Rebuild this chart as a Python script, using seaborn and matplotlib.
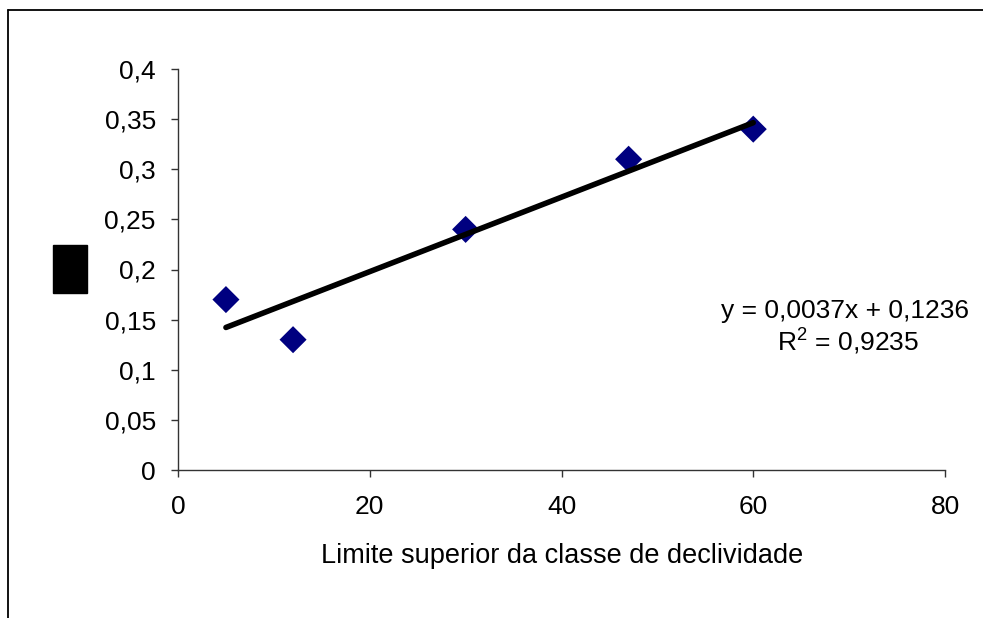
import matplotlib
matplotlib.use("Agg")
import matplotlib.pyplot as plt
import seaborn as sns
import pandas as pd
from matplotlib.patches import Rectangle
from matplotlib.lines import Line2D

# Data
x_vals = [5, 12, 30, 47, 60]
y_vals = [0.17, 0.13, 0.24, 0.31, 0.34]
x_ticks = [0, 20, 40, 60, 80]
y_ticks = [0, 0.05, 0.1, 0.15, 0.2, 0.25, 0.3, 0.35, 0.4]
y_ticklabels = ["0", "0,05", "0,1", "0,15", "0,2", "0,25", "0,3", "0,35", "0,4"]
x_label = "Limite superior da classe de declividade"
eq_text = "y = 0,0037x + 0,1236"
r2_text = "R$^2$ = 0,9235"

sns.set_theme(style="white")
plt.rcParams['font.family'] = ['Liberation Sans', 'DejaVu Sans']
plt.rcParams['mathtext.fontset'] = 'custom'
plt.rcParams['mathtext.rm'] = 'Liberation Sans'
plt.rcParams['text.color'] = 'black'

W, H = 983, 618
fig = plt.figure(figsize=(W / 100, H / 100), dpi=100)
ax = fig.add_axes([178 / W, 1 - 470 / H, (945 - 178) / W, (470 - 69) / H])

df = pd.DataFrame({"x": x_vals, "y": y_vals})
sns.regplot(data=df, x="x", y="y", ax=ax, ci=None, truncate=True,
            marker="D",
            scatter_kws={"s": 190, "color": "#000080", "edgecolor": "none", "alpha": 1},
            line_kws={"color": "black", "linewidth": 4, "solid_capstyle": "round"})

ax.set_xlim(0, 80)
ax.set_ylim(0, 0.4)
ax.set_xticks(x_ticks)
ax.set_xticklabels([str(v) for v in x_ticks])
ax.set_yticks(y_ticks)
ax.set_yticklabels(y_ticklabels)
ax.tick_params(axis="both", direction="out", length=5, width=1, color="#333333",
               labelsize=19, labelcolor="black", bottom=True, left=True)
ax.tick_params(axis="y", pad=11)
ax.tick_params(axis="x", pad=13)
for s in ["top", "right"]:
    ax.spines[s].set_visible(False)
for s in ["left", "bottom"]:
    ax.spines[s].set_color("#333333")
    ax.spines[s].set_linewidth(1)
ax.set_xlabel("")
ax.set_ylabel("")
ax.grid(False)

fig.text(562 / W, 1 - 556 / H, x_label, ha="center", va="center", fontsize=19.5,
         color="black")
fig.text(845 / W, 1 - 311 / H, eq_text, ha="center", va="center", fontsize=19,
         color="black")
fig.text(848 / W, 1 - 341 / H, r2_text, ha="center", va="center", fontsize=19,
         color="black")

# black block y-axis label (unrendered glyph)
fig.patches.append(Rectangle((53 / W, 1 - 293 / H), 34 / W, 48 / H,
                             transform=fig.transFigure, color="black"))

# frame lines (left and top)
fig.add_artist(Line2D([8 / W, 8 / W], [0, 1 - 10 / H], transform=fig.transFigure,
                      color="black", linewidth=1.3))
fig.add_artist(Line2D([8 / W, 1], [1 - 10 / H, 1 - 10 / H], transform=fig.transFigure,
                      color="black", linewidth=1.3))

fig.savefig("out.png", dpi=100)
